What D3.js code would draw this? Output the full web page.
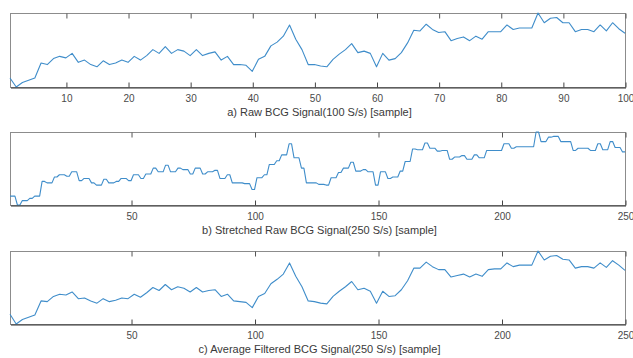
<!DOCTYPE html>
<html>
<head>
<meta charset="utf-8">
<script src="https://cdn.jsdelivr.net/npm/d3@7"></script>
<style>
  html, body { margin: 0; padding: 0; background: #fff; }
  svg { display: block; font-family: "Liberation Sans", Arial, Helvetica, sans-serif; }
  .axis text { fill: #4a4a4a; font-size: 10px; }
  .title { fill: #3a3a3a; font-size: 11px; }
</style>
</head>
<body>
<svg id="chart" width="633" height="358"></svg>
<script>
// Raw BCG signal, 100 samples at 100 S/s (arbitrary amplitude units)
const rawSignal = [
  12, 0, 6, 9, 12, 32, 30, 38, 41, 39,
  45, 33, 36, 30, 27, 35, 30, 32, 36, 33,
  41, 36, 42, 50, 45, 54, 45, 50, 48, 42,
  50, 42, 45, 47, 36, 41, 30, 30, 29, 21,
  37, 41, 55, 60, 68, 83, 64, 50, 30, 30,
  28, 27, 37, 44, 50, 58, 46, 48, 45, 27,
  45, 36, 38, 46, 59, 76, 75, 84, 77, 73,
  74, 62, 65, 67, 62, 68, 64, 74, 74, 74,
  83, 77, 79, 79, 79, 99, 86, 92, 93, 86,
  86, 74, 77, 77, 74, 83, 75, 86, 78, 72
];

// Stretched raw signal, 250 samples (each raw sample held 3 or 2 samples)
const stretchedSignal = [
  12,12,12,0,0, 6,6,6,9,9, 12,12,12,32,32, 30,30,30,38,38, 41,41,41,39,39,
  45,45,45,33,33, 36,36,36,30,30, 27,27,27,35,35, 30,30,30,32,32, 36,36,36,33,33,
  41,41,41,36,36, 42,42,42,50,50, 45,45,45,54,54, 45,45,45,50,50, 48,48,48,42,42,
  50,50,50,42,42, 45,45,45,47,47, 36,36,36,41,41, 30,30,30,30,30, 29,29,29,21,21,
  37,37,37,41,41, 55,55,55,60,60, 68,68,68,83,83, 64,64,64,50,50, 30,30,30,30,30,
  28,28,28,27,27, 37,37,37,44,44, 50,50,50,58,58, 46,46,46,48,48, 45,45,45,27,27,
  45,45,45,36,36, 38,38,38,46,46, 59,59,59,76,76, 75,75,75,84,84, 77,77,77,73,73,
  74,74,74,62,62, 65,65,65,67,67, 62,62,62,68,68, 64,64,64,74,74, 74,74,74,74,74,
  83,83,83,77,77, 79,79,79,79,79, 79,79,79,99,99, 86,86,86,92,92, 93,93,93,86,86,
  86,86,86,74,74, 77,77,77,77,77, 74,74,74,83,83, 75,75,75,86,86, 78,78,78,72,72
];

// Average-filtered signal, one value per raw sample, on the 250 S/s sample axis
const filteredSignal = [
  13, 0, 6, 9, 12, 31, 30, 37, 40, 39,
  43, 34, 35, 31, 28, 34, 30, 32, 35, 34,
  40, 36, 42, 49, 45, 53, 46, 50, 48, 43,
  49, 43, 45, 46, 37, 40, 31, 30, 29, 22,
  37, 41, 54, 60, 67, 82, 64, 50, 31, 30,
  28, 27, 37, 44, 50, 57, 46, 48, 44, 28,
  44, 37, 38, 46, 58, 75, 75, 83, 77, 73,
  73, 63, 65, 67, 63, 67, 64, 73, 74, 74,
  82, 77, 79, 79, 79, 98, 86, 91, 92, 87,
  86, 75, 77, 77, 75, 82, 76, 85, 79, 72
];

const ticksA = [10, 20, 30, 40, 50, 60, 70, 80, 90, 100];
const ticksB = [50, 100, 150, 200, 250];

const titles = [
  "a) Raw BCG Signal(100 S/s) [sample]",
  "b) Stretched Raw BCG Signal(250 S/s) [sample]",
  "c) Average Filtered BCG Signal(250 S/s) [sample]"
];

const svg = d3.select("#chart");
const left = 10, right = 625;

const rawIdx = d3.range(1, rawSignal.length + 1);
const stretchedIdx = d3.range(1, stretchedSignal.length + 1);
const filteredIdx = d3.range(filteredSignal.length).map(i => 1 + i * 249 / (filteredSignal.length - 1));

const panels = [
  { xs: rawIdx, ys: rawSignal, domain: [1, 100], ticks: ticksA, top: 13, bottom: 87, title: titles[0] },
  { xs: stretchedIdx, ys: stretchedSignal, domain: [1, 250], ticks: ticksB, top: 132, bottom: 205, title: titles[1] },
  { xs: filteredIdx, ys: filteredSignal, domain: [1, 250], ticks: ticksB, top: 251, bottom: 324, title: titles[2] }
];

panels.forEach(p => {
  const x = d3.scaleLinear().domain(p.domain).range([left, right]);
  const y = d3.scaleLinear().domain(d3.extent(p.ys)).range([p.bottom, p.top]);
  const g = svg.append("g");

  // frame
  g.append("rect")
    .attr("x", left + 0.5).attr("y", p.top + 0.5)
    .attr("width", right - left).attr("height", p.bottom - p.top)
    .attr("fill", "none").attr("stroke", "#8c8c8c").attr("stroke-width", 1);

  // signal
  const line = d3.line().x((d, i) => x(p.xs[i])).y(d => y(d));
  g.append("path")
    .datum(p.ys)
    .attr("d", line)
    .attr("fill", "none")
    .attr("stroke", "#3f8dca")
    .attr("stroke-width", 1.1)
    .attr("stroke-linejoin", "round");

  // top ticks (inward, no labels)
  const topAxis = d3.axisTop(x).tickValues(p.ticks).tickSizeInner(-5).tickSizeOuter(0).tickFormat("");
  g.append("g").attr("transform", `translate(0.5,${p.top + 0.5})`).call(topAxis)
    .call(s => s.select(".domain").remove())
    .call(s => s.selectAll(".tick line").attr("stroke", "#555"));

  // bottom axis (inward ticks, labels below)
  const bottomAxis = d3.axisBottom(x).tickValues(p.ticks).tickSizeInner(-5).tickSizeOuter(0).tickPadding(7);
  g.append("g").attr("class", "axis").attr("transform", `translate(0.5,${p.bottom + 0.5})`).call(bottomAxis)
    .call(s => s.select(".domain").attr("stroke", "#333"))
    .call(s => s.selectAll(".tick line").attr("stroke", "#444"))
    .call(s => s.selectAll(".tick text").attr("fill", "#4a4a4a"));

  // axis caption
  g.append("text")
    .attr("class", "title")
    .attr("x", (left + right) / 2 + 2)
    .attr("y", p.bottom + 29)
    .attr("text-anchor", "middle")
    .text(p.title);
});
</script>
</body>
</html>
